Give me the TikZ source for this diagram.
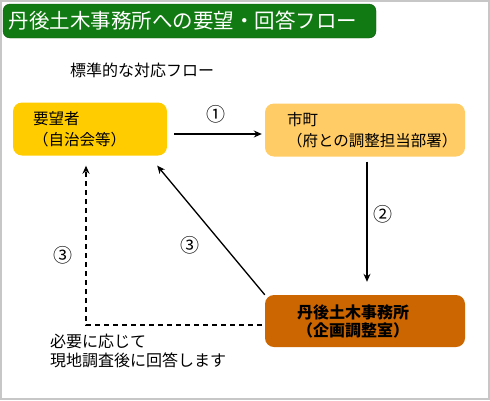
\documentclass[tikz,border=0pt]{standalone}
\usepackage{fontspec}
\setmainfont{Noto Sans CJK JP}
\usetikzlibrary{arrows.meta, positioning, calc}

\definecolor{titlegreen}{RGB}{18,122,18}
\definecolor{reqyellow}{RGB}{255,204,0}
\definecolor{cityorange}{RGB}{255,204,102}
\definecolor{officebrown}{RGB}{204,102,0}

\begin{document}
\begin{tikzpicture}[x=1pt, y=-1pt,
    title/.style={rectangle, rounded corners=7pt, fill=titlegreen, draw=titlegreen!70!black, text=white, minimum width=373pt, minimum height=34pt, inner xsep=6pt, text width=361pt, align=left, font=\fontsize{20.5}{24}\selectfont},
    party/.style={rectangle, rounded corners=9pt, minimum height=53pt, align=left, font=\fontsize{15.5}{21}\selectfont},
    plain/.style={inner sep=0pt, align=left, font=\fontsize{16}{19}\selectfont},
    num/.style={inner sep=0pt, font=\fontsize{19}{19}\selectfont},
    arrow/.style={-{Stealth[length=8pt,width=7pt]}, line width=1.3pt},
    reply/.style={arrow, dash pattern=on 5pt off 4pt}
]
\useasboundingbox (0,0) rectangle (490,400);
\draw[black!22, line width=2pt] (1,1) rectangle (489,399);

% Nodes
\node[title] (head) at (189.5,21) {丹後土木事務所への要望・回答フロー};
\node[plain, anchor=west] (sub) at (70,70) {標準的な対応フロー};
\node[party, fill=reqyellow, minimum width=154pt, inner xsep=20pt, text width=114pt] (req) at (90,129) {要望者\\（自治会等）};
\node[party, fill=cityorange, minimum width=200pt, inner xsep=22pt, text width=156pt] (city) at (365,130) {市町\\（府との調整担当部署）};
\node[party, fill=officebrown, minimum width=200pt, minimum height=52pt, inner xsep=32pt, text width=136pt, font=\fontsize{16}{18}\selectfont\bfseries] (office) at (365,321) {丹後土木事務所\\（企画調整室）};
\node[plain, anchor=north west] (note) at (50,334) {必要に応じて\\現地調査後に回答します};

% Connections
\draw[arrow, shorten <=7pt, shorten >=3pt] ([yshift=-5pt]req.east) -- node[num, above=10pt] (n1) {①} ([yshift=-5pt]req.east -| city.west);
\draw[arrow, shorten <=5pt, shorten >=13pt] ([xshift=2pt]city.south) -- node[num, pos=0.42, right=6pt] (n2) {②} ([xshift=2pt]office.north);
\draw[arrow] (office.north west) -- node[num, pos=0.38, left=24pt] (n3) {③} ([xshift=-10pt,yshift=-10pt]req.south east);
\draw[reply, shorten <=3pt] ([yshift=-4pt]office.west) -| node[num, pos=0.72, left=13pt] (n4) {③} ([xshift=-4pt,yshift=-10pt]req.south);

\end{tikzpicture}
\end{document}
